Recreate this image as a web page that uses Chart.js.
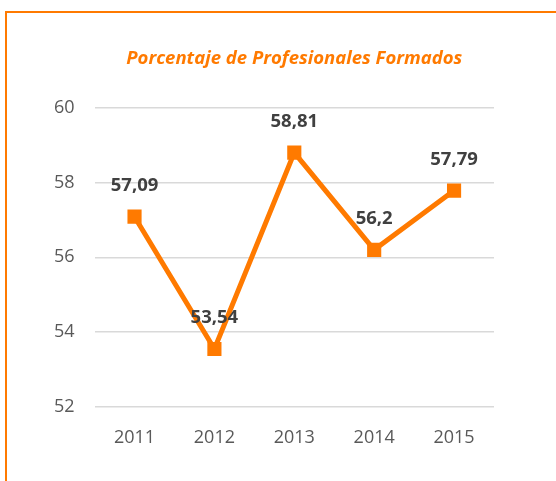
<!DOCTYPE html>
<html>
<head>
<meta charset="utf-8">
<script src="https://cdn.jsdelivr.net/npm/chart.js@4/dist/chart.umd.min.js"></script>
<style>
    html, body { margin: 0; padding: 0; background: #fff; }
    #wrap { position: relative; width: 556px; height: 481px; overflow: hidden; }
    #frame {
        position: absolute; left: 5px; top: 11px; width: 600px; height: 520px;
        border-top: 2px solid #FF7A00; border-left: 2px solid #FF7A00;
    }
    #chart { position: absolute; left: 0; top: 0; }
</style>
</head>
<body>
<div id="wrap">
    <div id="frame"></div>
    <canvas id="chart" width="556" height="481"></canvas>
</div>
<script>
// Porcentaje de profesionales formados por año
const years = ['2011', '2012', '2013', '2014', '2015'];
const percentages = [57.09, 53.54, 58.81, 56.2, 57.79];
const yTicks = [52, 54, 56, 58, 60];

const orange = '#FF7A00';

// labels above each point, decimal comma like the original
const pointLabels = {
    id: 'pointLabels',
    afterDatasetsDraw(chart) {
        const ctx = chart.ctx;
        const meta = chart.getDatasetMeta(0);
        ctx.save();
        ctx.font = 'bold 18.5px "Open Sans"';
        ctx.fillStyle = '#404040';
        ctx.textAlign = 'center';
        ctx.textBaseline = 'middle';
        meta.data.forEach((pt, i) => {
            const txt = String(percentages[i]).replace('.', ',');
            ctx.fillText(txt, pt.x, pt.y - 31);
        });
        ctx.restore();
    }
};

new Chart(document.getElementById('chart').getContext('2d'), {
    type: 'line',
    data: {
        labels: years,
        datasets: [{
            label: 'Porcentaje',
            data: percentages,
            borderColor: orange,
            backgroundColor: orange,
            borderWidth: 5,
            pointStyle: 'rect',
            pointRadius: 10,
            pointBorderWidth: 0,
            tension: 0
        }]
    },
    options: {
        responsive: false,
        animation: false,
        layout: {
            padding: { left: 34, right: 62, top: 0, bottom: 11 }
        },
        plugins: {
            legend: { display: false },
            tooltip: { enabled: false },
            title: {
                display: true,
                fullSize: false,
                text: 'Porcentaje de Profesionales Formados',
                color: orange,
                font: { family: 'Open Sans', size: 18.5, weight: 'bold', style: 'italic' },
                padding: { top: 48, bottom: 38 }
            }
        },
        scales: {
            x: {
                offset: true,
                grid: { display: false, drawTicks: false },
                border: { display: false },
                ticks: {
                    color: '#595959',
                    padding: 21,
                    font: { family: 'Open Sans', size: 18 }
                }
            },
            y: {
                min: 52,
                max: 60,
                afterBuildTicks(scale) {
                    scale.ticks = yTicks.map(v => ({ value: v }));
                },
                grid: { color: '#D9D9D9', lineWidth: 1.5, drawTicks: false },
                border: { display: false },
                ticks: {
                    color: '#595959',
                    padding: 20,
                    font: { family: 'Open Sans', size: 18 }
                }
            }
        }
    },
    plugins: [pointLabels]
});
</script>
</body>
</html>
